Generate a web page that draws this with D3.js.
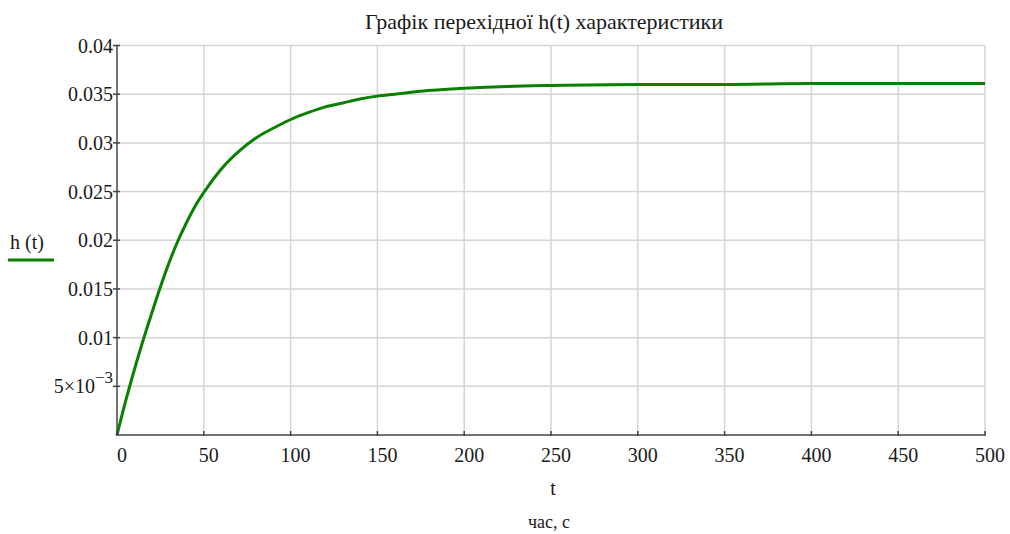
<!DOCTYPE html>
<html>
<head>
<meta charset="utf-8">
<script src="https://cdn.jsdelivr.net/npm/d3@7"></script>
<style>
  body { margin: 0; background: #fff; }
</style>
</head>
<body>
<svg id="chart" width="1010" height="534" font-family="'Liberation Serif', 'Times New Roman', serif" fill="#1a1a1a"></svg>
<script>
// values
const tValues = [0, 5, 10, 15, 20, 25, 30, 35, 40, 45, 50, 60, 70, 80, 90, 100, 110, 120,
                 130, 140, 150, 160, 175, 200, 225, 250, 300, 350, 400, 500];
const hValues = [0, 0.0035, 0.0067, 0.0097, 0.0125, 0.0152, 0.0177, 0.0199, 0.0218, 0.0235,
                 0.0249, 0.0273, 0.0291, 0.0305, 0.0315, 0.0324, 0.0331, 0.0337, 0.0341,
                 0.0345, 0.0348, 0.0350, 0.0353, 0.0356, 0.0358, 0.0359, 0.0360, 0.0360,
                 0.0361, 0.0361];
const xTicks = [0, 50, 100, 150, 200, 250, 300, 350, 400, 450, 500];
const yTicks = [0.005, 0.01, 0.015, 0.02, 0.025, 0.03, 0.035, 0.04];
const yTickLabels = ["5×10^−3", "0.01", "0.015", "0.02", "0.025", "0.03", "0.035", "0.04"];

const title = "Графік перехідної h(t) характеристики";
const yName = "h (t)";
const xName = "t";
const xUnit = "час, с";

const pLeft = 117, pRight = 985, pTop = 45.5, pBottom = 435;
const gridColor = "#d6d6d6", axisColor = "#444", lineColor = "#0a8000";

const svg = d3.select("#chart");

const x = d3.scaleLinear().domain([0, 500]).range([pLeft, pRight]);
const y = d3.scaleLinear().domain([0, 0.04]).range([pBottom, pTop]);

// grid
const grid = svg.append("g");
grid.selectAll("line.vg").data(xTicks.slice(1)).join("line")
    .attr("x1", d => x(d)).attr("x2", d => x(d))
    .attr("y1", pTop).attr("y2", pBottom)
    .attr("stroke", gridColor).attr("stroke-width", 1.5);
grid.selectAll("line.hg").data(yTicks).join("line")
    .attr("x1", pLeft).attr("x2", pRight)
    .attr("y1", d => y(d)).attr("y2", d => y(d))
    .attr("stroke", gridColor).attr("stroke-width", 1.5);

// curve
const line = d3.line().x((d, i) => x(tValues[i])).y(d => y(d)).curve(d3.curveMonotoneX);
svg.append("path").datum(hValues).attr("d", line)
   .attr("fill", "none").attr("stroke", lineColor).attr("stroke-width", 3);

// axes
svg.append("line").attr("x1", pLeft).attr("x2", pLeft).attr("y1", pTop).attr("y2", pBottom)
   .attr("stroke", axisColor).attr("stroke-width", 1.5);
svg.append("line").attr("x1", pLeft).attr("x2", pRight).attr("y1", pBottom).attr("y2", pBottom)
   .attr("stroke", axisColor).attr("stroke-width", 1.5);

svg.selectAll("line.xt").data(xTicks).join("line")
   .attr("x1", d => x(d)).attr("x2", d => x(d))
   .attr("y1", pBottom - 4).attr("y2", pBottom + 1)
   .attr("stroke", axisColor).attr("stroke-width", 1.5);
svg.selectAll("line.yt").data(yTicks).join("line")
   .attr("x1", pLeft - 4).attr("x2", pLeft + 3)
   .attr("y1", d => y(d)).attr("y2", d => y(d))
   .attr("stroke", axisColor).attr("stroke-width", 1.5);

// tick labels
svg.selectAll("text.xl").data(xTicks).join("text")
   .attr("x", d => x(d) + 5).attr("y", pBottom + 27)
   .attr("text-anchor", "middle").attr("font-size", 20)
   .text(d => d);

const yl = svg.selectAll("text.yl").data(yTicks).join("text")
   .attr("x", pLeft - 4).attr("y", d => y(d) + 7)
   .attr("text-anchor", "end").attr("font-size", 20);
yl.each(function (d, i) {
  const parts = yTickLabels[i].split("^");
  const t = d3.select(this);
  t.append("tspan").text(parts[0]);
  if (parts.length > 1) {
    t.append("tspan").attr("dy", -10).attr("font-size", 17).text(parts[1]);
  }
});

// titles
svg.append("text").attr("x", 544).attr("y", 29).attr("text-anchor", "middle")
   .attr("font-size", 22).text(title);
svg.append("text").attr("x", 553).attr("y", 495).attr("text-anchor", "middle")
   .attr("font-size", 20).text(xName);
svg.append("text").attr("x", 549).attr("y", 528).attr("text-anchor", "middle")
   .attr("font-size", 18).text(xUnit);
svg.append("text").attr("x", 27).attr("y", 249).attr("text-anchor", "middle")
   .attr("font-size", 20).text(yName);
svg.append("line").attr("x1", 8).attr("x2", 54).attr("y1", 260).attr("y2", 260)
   .attr("stroke", lineColor).attr("stroke-width", 3);
</script>
</body>
</html>
